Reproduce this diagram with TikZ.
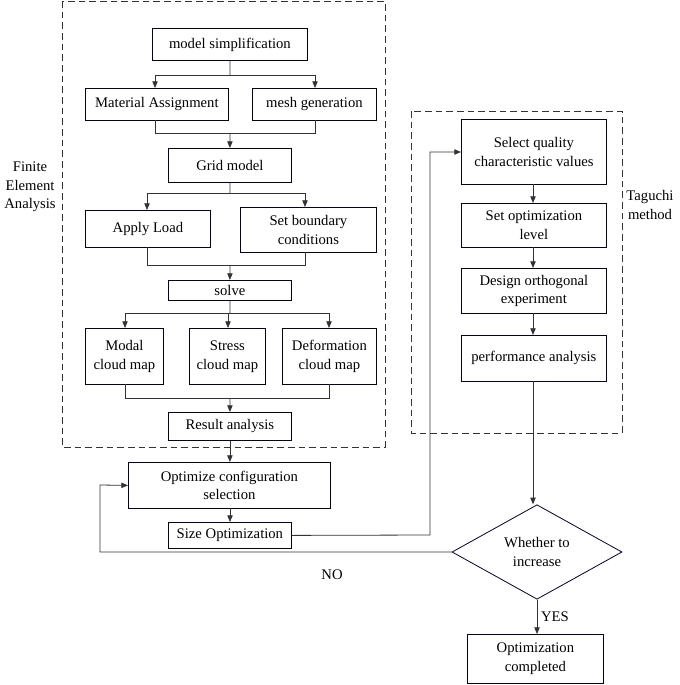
\documentclass[tikz,border=0pt]{standalone}
\usepackage{fontspec}
\setmainfont{Liberation Serif}
\usetikzlibrary{arrows.meta,shapes.geometric}
\begin{document}
\begin{tikzpicture}[x=0.75pt,y=-0.75pt,
  box/.style={draw=black!80!blue,line width=0.6pt,align=center,inner sep=0pt,font=\fontsize{11}{14}\selectfont},
  dbox/.style={draw=black!80,dashed,dash pattern=on 5pt off 3pt,line width=0.6pt},
  ln/.style={draw=black!80,line width=0.6pt},
  ar/.style={ln,-{Triangle[length=5pt,width=4pt]}},
  lbl/.style={font=\fontsize{11}{14}\selectfont,align=center,inner sep=0pt}]
\useasboundingbox (0,0) rectangle (680,685);
\fill[white] (0,0) rectangle (680,685);
\draw[dbox] (62,1) rectangle (385,447);
\draw[dbox] (411,111) rectangle (622,433);
\newcommand{\bx}[6]{\node[box,minimum width=#4*0.75pt-#2*0.75pt,minimum height=#5*0.75pt-#3*0.75pt,anchor=north west] (#1) at (#2,#3) {#6};}
\bx{ms}{152}{28}{307}{60}{model simplification}
\bx{ma}{85}{88}{228}{120}{Material Assignment}
\bx{mg}{252}{88}{376}{120}{mesh generation}
\bx{gm}{168}{148}{291}{182}{Grid model}
\bx{al}{85}{210}{210}{247}{Apply Load}
\bx{bc}{240}{207}{376}{252}{Set boundary\\conditions}
\bx{so}{168}{280}{291}{300}{solve}
\bx{mo}{85}{328}{163}{384}{Modal\\cloud map}
\bx{st}{189}{328}{265}{384}{Stress\\cloud map}
\bx{de}{282}{328}{376}{384}{Deformation\\cloud map}
\bx{ra}{168}{412}{291}{440}{Result analysis}
\bx{oc}{128}{462}{330}{508}{Optimize configuration\\selection}
\bx{sz}{168}{522}{291}{548}{Size Optimization}
\bx{sq}{461}{119}{606}{184}{Select quality\\characteristic values}
\bx{sl}{461}{203}{606}{247}{Set optimization\\level}
\bx{do}{461}{268}{606}{313}{Design orthogonal\\experiment}
\bx{pa}{461}{335}{606}{381}{performance analysis}
\node[diamond,draw=black!80!blue,line width=0.6pt,minimum width=170*0.75pt,minimum height=89*0.75pt,inner sep=0pt,align=center,font=\fontsize{11}{14}\selectfont] (wi) at (537,552) {Whether to\\increase};
\bx{co}{467}{634}{603}{683}{Optimization\\completed}
\node[lbl] (fea) at (30,187) {Finite\\Element\\Analysis};
\node[lbl] (tm) at (650,205) {Taguchi\\method};
\node[lbl] (no) at (332,575) {NO};
\node[lbl] (yes) at (555,617) {YES};
\coordinate (j1) at (230,75);
\draw[ln] (ms.south) -- (j1);
\draw[ar] (155,75) -- (155,88);
\draw[ar] (315,75) -- (315,88);
\draw[ln] (155,75) -- (315,75);
\draw[ln] (155,120) -- (155,133) -- (315,133) -- (315,120);
\draw[ar] (230,133) -- (gm.north);
\draw[ln] (gm.south) -- (230,193);
\draw[ln] (147,193) -- (305,193);
\draw[ar] (147,193) -- (147,210);
\draw[ar] (305,193) -- (305,207);
\draw[ln] (147,247) -- (147,265) -- (305,265) -- (305,252);
\draw[ar] (230,265) -- (so.north);
\draw[ln] (so.south) -- (230,313);
\draw[ln] (125,313) -- (329,313);
\draw[ar] (125,313) -- (125,328);
\draw[ar] (228,313) -- (228,328);
\draw[ar] (329,313) -- (329,328);
\draw[ln] (125,384) -- (125,398) -- (329,398) -- (329,384);
\draw[ar] (230,398) -- (ra.north);
\draw[ar] (ra.south) -- (oc.north -| ra.south);
\draw[ar] (230,508) -- (230,522);
\draw[ar] (sz.east) -- (430,535) -- (430,152) -- (sq.west |- 0,152);
\draw[ar] (533,184) -- (533,203);
\draw[ar] (533,247) -- (533,268);
\draw[ar] (533,313) -- (533,335);
\draw[ar] (533,381) -- (wi.north -| 533,0);
\draw[ar] (wi.west) -- (100,552) -- (100,485) -- (oc.west);
\draw[ar] (wi.south) -- (co.north -| wi.south);
\end{tikzpicture}
\end{document}
